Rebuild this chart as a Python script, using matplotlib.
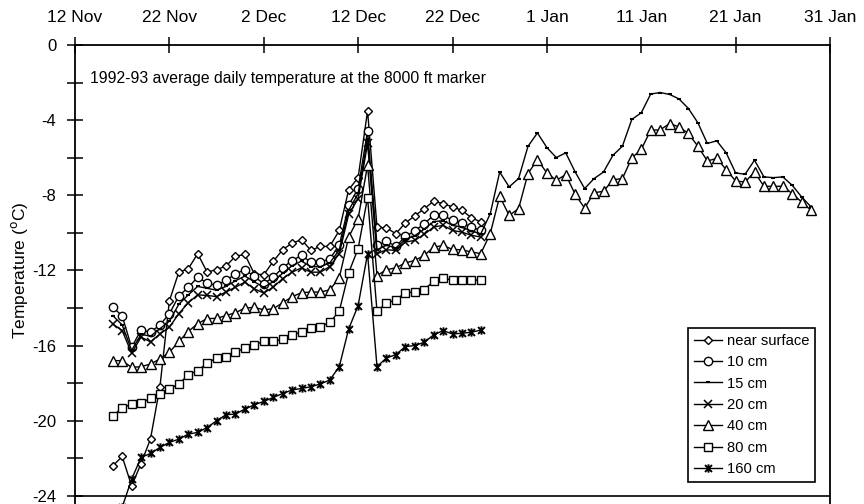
import matplotlib
matplotlib.use("Agg")
import matplotlib.pyplot as plt
import matplotlib.dates as mdates
from matplotlib.path import Path
import pandas as pd

plt.rcParams["font.family"] = ["Liberation Sans", "DejaVu Sans"]
plt.rcParams["axes.unicode_minus"] = False

# daily means, 1992-93, 8000 ft marker
near_surface_start = "1992-11-16"
near_surface = [-22.4, -21.9, -23.47, -22.28, -20.96, -18.19, -13.62, -12.09, -11.91, -11.11,
                -12.09, -11.95, -11.77, -11.24, -11.15, -12.18, -12.23, -11.52, -10.9, -10.54,
                -10.37, -10.93, -10.72, -10.72, -9.87, -7.7, -7.06, -3.5, -9.69, -9.74,
                -10.04, -9.47, -9.1, -8.71, -8.32, -8.44, -8.62, -8.8, -9.19, -9.42]

cm10_start = "1992-11-16"
cm10 = [-13.95, -14.42, -16.1, -15.16, -15.29, -14.89, -14.31, -13.36, -12.9, -12.36,
        -12.67, -12.8, -12.53, -12.18, -11.96, -12.32, -12.71, -12.36, -11.86, -11.47,
        -11.2, -11.56, -11.56, -11.38, -10.67, -8.53, -7.64, -4.57, -10.67, -10.44,
        -10.72, -10.19, -9.9, -9.51, -9.07, -9.07, -9.33, -9.47, -9.69, -9.87]

cm15_start = "1992-11-16"
cm15 = [-14.4, -14.9, -16.25, -15.4, -15.5, -15.1, -14.7, -13.8, -13.3, -12.85,
        -12.95, -13.05, -12.85, -12.55, -12.3, -12.6, -12.9, -12.6, -12.15, -11.75,
        -11.5, -11.8, -11.8, -11.6, -10.9, -8.8, -7.9, -5.0, -10.9, -10.65,
        -10.8, -10.35, -10.15, -9.8, -9.4, -9.35, -9.6, -9.7, -9.9, -10.05,
        -8.98, -6.76, -7.55, -7.11, -5.39, -4.68, -5.46, -5.99, -5.74, -6.76,
        -7.64, -7.11, -6.76, -5.87, -5.39, -3.96, -3.61, -2.61, -2.53, -2.63,
        -2.87, -3.38, -4.14, -5.24, -5.1, -5.74, -6.81, -6.88, -6.13, -7.02,
        -7.06, -7.02, -7.47, -8.09, -8.62]

cm20_start = "1992-11-16"
cm20 = [-14.85, -15.2, -16.4, -15.55, -15.8, -15.38, -15.02, -14.3, -13.72, -13.3,
        -13.33, -13.39, -13.15, -12.89, -12.62, -12.98, -13.2, -12.89, -12.44, -12.09,
        -11.86, -12.09, -12.09, -11.79, -11.11, -9.01, -8.18, -5.24, -11.11, -10.9,
        -10.93, -10.49, -10.4, -10.08, -9.69, -9.6, -9.87, -9.96, -10.13, -10.22]

cm40_start = "1992-11-16"
cm40 = [-16.8, -16.8, -17.16, -17.12, -16.98, -16.71, -16.36, -15.78, -15.25, -14.83,
        -14.56, -14.55, -14.4, -14.25, -14.0, -13.97, -14.09, -14.04, -13.72, -13.4,
        -13.18, -13.15, -13.15, -13.03, -12.39, -10.22, -9.24, -6.4, -12.27, -11.96,
        -11.86, -11.6, -11.47, -11.2, -10.76, -10.67, -10.88, -10.9, -11.02, -11.1,
        -10.04, -8.05, -9.07, -8.71, -6.84, -6.1, -6.81, -7.2, -6.9, -7.95,
        -8.68, -7.86, -7.79, -7.17, -7.11, -6.01, -5.56, -4.53, -4.52, -4.18,
        -4.36, -4.71, -5.39, -6.17, -6.04, -6.63, -7.24, -7.29, -6.76, -7.52,
        -7.52, -7.52, -7.91, -8.36, -8.8]

cm80_start = "1992-11-16"
cm80 = [-19.73, -19.32, -19.11, -19.07, -18.79, -18.58, -18.31, -18.04, -17.56, -17.33,
        -16.94, -16.66, -16.59, -16.36, -16.12, -15.95, -15.78, -15.77, -15.67, -15.45,
        -15.26, -15.08, -14.99, -14.76, -14.17, -12.12, -10.84, -8.12, -14.17, -13.74,
        -13.56, -13.19, -13.15, -13.03, -12.57, -12.39, -12.53, -12.53, -12.53, -12.5]

cm160_start = "1992-11-17"
cm160 = [-24.6, -23.11, -21.95, -21.74, -21.42, -21.15, -20.98, -20.71, -20.62, -20.36,
         -20.0, -19.68, -19.64, -19.38, -19.15, -18.97, -18.76, -18.55, -18.36, -18.28,
         -18.19, -18.04, -17.83, -17.12, -15.11, -13.87, -11.11, -17.12, -16.66, -16.48,
         -16.05, -16.0, -15.82, -15.43, -15.2, -15.38, -15.34, -15.29, -15.17]

# excel style "star": an x with a vertical bar
star = Path([(-1, -1), (1, 1), (-1, 1), (1, -1), (0, -1.2), (0, 1.2)],
            [Path.MOVETO, Path.LINETO, Path.MOVETO, Path.LINETO, Path.MOVETO, Path.LINETO])

series = [
    ("near surface", near_surface_start, near_surface, dict(marker="D", ms=4.5)),
    ("10 cm", cm10_start, cm10, dict(marker="o", ms=6)),
    ("15 cm", cm15_start, cm15, dict(marker="_", ms=3, mew=1.5)),
    ("20 cm", cm20_start, cm20, dict(marker="x", ms=6, mew=1.1)),
    ("40 cm", cm40_start, cm40, dict(marker="^", ms=6.5)),
    ("80 cm", cm80_start, cm80, dict(marker="s", ms=5.5)),
    ("160 cm", cm160_start, cm160, dict(marker=star, ms=6, mew=1.4)),
]

fig = plt.figure(figsize=(8.64, 5.04), dpi=100)
ax = fig.add_axes([75 / 864, 0, 755 / 864, 459 / 504])

for name, start, vals, style in series:
    dates = pd.date_range(start, periods=len(vals), freq="D")
    ax.plot(dates, vals, color="black", lw=1.0, mfc="white", mec="black",
            label=name, **style)

ax.set_xlim(pd.Timestamp("1992-11-12"), pd.Timestamp("1993-01-31"))
ax.set_ylim(-24.43, 0)
ax.axhline(-24, color="black", lw=1.2)

ax.xaxis.tick_top()
ax.set_xticks(pd.date_range("1992-11-12", "1993-01-31", freq="10D"))
ax.xaxis.set_major_formatter(mdates.DateFormatter("%-d %b"))
ax.set_yticks([0, -4, -8, -12, -16, -20, -24])
ax.set_yticks([-2, -6, -10, -14, -18, -22], minor=True)
ax.tick_params(axis="both", which="both", direction="inout", width=1.1)
ax.tick_params(axis="both", which="major", length=11)
ax.tick_params(axis="y", which="minor", length=11)
ax.tick_params(axis="x", pad=9, labelsize=12.5)
ax.tick_params(axis="y", pad=8, labelsize=12)

for side in ["left", "top", "right"]:
    ax.spines[side].set_linewidth(1.3)
ax.spines["bottom"].set_visible(False)

ax.text(0.02, 0.928,
        "1992-93 average daily temperature at the 8000 ft marker",
        transform=ax.transAxes, fontsize=11.3, va="center", ha="left")

fig.text(20 / 864, 1 - 270 / 504, r"Temperature ($^{\rm o}$C)", rotation=90,
         fontsize=12.5, ha="center", va="center")

leg = ax.legend(loc="lower right", bbox_to_anchor=(0.98, 0.048), borderaxespad=0,
                fancybox=False, edgecolor="black", framealpha=1, fontsize=10.6,
                handlelength=1.9, handletextpad=0.3, labelspacing=0.5,
                borderpad=0.4)
leg.get_frame().set_linewidth(1.2)

fig.savefig("out.png", dpi=100)
